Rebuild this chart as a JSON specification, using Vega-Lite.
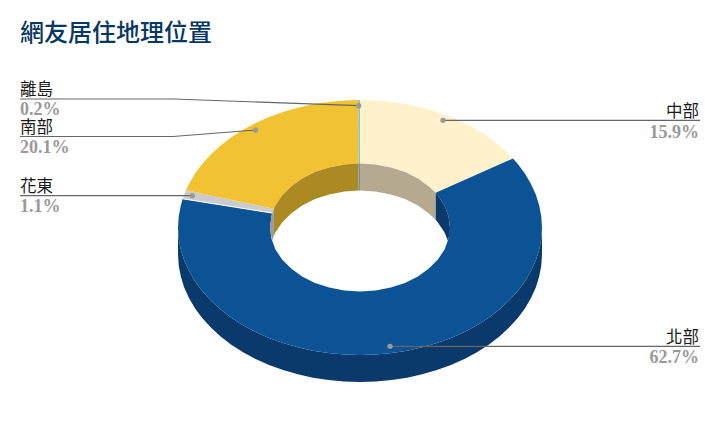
{"$schema":"https://vega.github.io/schema/vega-lite/v6.json","width":720,"height":443,"padding":0,"autosize":{"type":"none"},"background":"white",
"title":{"text":"網友居住地理位置","anchor":"start","frame":"group","orient":"top","offset":0,"dx":20,"dy":65,"baseline":"alphabetic","font":"Noto Sans CJK TC","fontSize":24,"fontWeight":500,"color":"#073763"},
"datasets":{
"shapes":[
{"piece":"北部側面","x":182,"y":0},{"piece":"北部側面","x":181.3,"y":-11.1},{"piece":"北部側面","x":179.2,"y":-22.1},{"piece":"北部側面","x":175.8,"y":-33},{"piece":"北部側面","x":171,"y":-43.6},{"piece":"北部側面","x":164.9,"y":-53.9},{"piece":"北部側面","x":157.6,"y":-63.8},{"piece":"北部側面","x":149.1,"y":-73.1},{"piece":"北部側面","x":139.4,"y":-82},{"piece":"北部側面","x":128.7,"y":-90.2},{"piece":"北部側面","x":117,"y":-97.7},{"piece":"北部側面","x":104.4,"y":-104.4},{"piece":"北部側面","x":91,"y":-110.4},{"piece":"北部側面","x":76.9,"y":-115.6},{"piece":"北部側面","x":62.2,"y":-119.8},{"piece":"北部側面","x":47.1,"y":-123.2},{"piece":"北部側面","x":31.6,"y":-125.6},{"piece":"北部側面","x":15.9,"y":-127},{"piece":"北部側面","x":0,"y":-127.5},{"piece":"北部側面","x":-15.9,"y":-127},{"piece":"北部側面","x":-31.6,"y":-125.6},{"piece":"北部側面","x":-47.1,"y":-123.2},{"piece":"北部側面","x":-62.2,"y":-119.8},{"piece":"北部側面","x":-76.9,"y":-115.6},{"piece":"北部側面","x":-91,"y":-110.4},{"piece":"北部側面","x":-104.4,"y":-104.4},{"piece":"北部側面","x":-117,"y":-97.7},{"piece":"北部側面","x":-128.7,"y":-90.2},{"piece":"北部側面","x":-139.4,"y":-82},{"piece":"北部側面","x":-149.1,"y":-73.1},{"piece":"北部側面","x":-157.6,"y":-63.8},{"piece":"北部側面","x":-164.9,"y":-53.9},{"piece":"北部側面","x":-171,"y":-43.6},{"piece":"北部側面","x":-175.8,"y":-33},{"piece":"北部側面","x":-179.2,"y":-22.1},{"piece":"北部側面","x":-181.3,"y":-11.1},{"piece":"北部側面","x":-182,"y":0},
{"piece":"北部側面","x":-182,"y":-27},{"piece":"北部側面","x":-181.3,"y":-38.1},{"piece":"北部側面","x":-179.2,"y":-49.1},{"piece":"北部側面","x":-175.8,"y":-60},{"piece":"北部側面","x":-171,"y":-70.6},{"piece":"北部側面","x":-164.9,"y":-80.9},{"piece":"北部側面","x":-157.6,"y":-90.8},{"piece":"北部側面","x":-149.1,"y":-100.1},{"piece":"北部側面","x":-139.4,"y":-109},{"piece":"北部側面","x":-128.7,"y":-117.2},{"piece":"北部側面","x":-117,"y":-124.7},{"piece":"北部側面","x":-104.4,"y":-131.4},{"piece":"北部側面","x":-91,"y":-137.4},{"piece":"北部側面","x":-76.9,"y":-142.6},{"piece":"北部側面","x":-62.2,"y":-146.8},{"piece":"北部側面","x":-47.1,"y":-150.2},{"piece":"北部側面","x":-31.6,"y":-152.6},{"piece":"北部側面","x":-15.9,"y":-154},{"piece":"北部側面","x":0,"y":-154.5},{"piece":"北部側面","x":15.9,"y":-154},{"piece":"北部側面","x":31.6,"y":-152.6},{"piece":"北部側面","x":47.1,"y":-150.2},{"piece":"北部側面","x":62.2,"y":-146.8},{"piece":"北部側面","x":76.9,"y":-142.6},{"piece":"北部側面","x":91,"y":-137.4},{"piece":"北部側面","x":104.4,"y":-131.4},{"piece":"北部側面","x":117,"y":-124.7},{"piece":"北部側面","x":128.7,"y":-117.2},{"piece":"北部側面","x":139.4,"y":-109},{"piece":"北部側面","x":149.1,"y":-100.1},{"piece":"北部側面","x":157.6,"y":-90.8},{"piece":"北部側面","x":164.9,"y":-80.9},{"piece":"北部側面","x":171,"y":-70.6},{"piece":"北部側面","x":175.8,"y":-60},{"piece":"北部側面","x":179.2,"y":-49.1},{"piece":"北部側面","x":181.3,"y":-38.1},{"piece":"北部側面","x":182,"y":-27},

{"piece":"中部","x":0,"y":127.5},{"piece":"中部","x":15.9,"y":127},{"piece":"中部","x":31.6,"y":125.6},{"piece":"中部","x":47.1,"y":123.2},{"piece":"中部","x":62.2,"y":119.8},{"piece":"中部","x":76.9,"y":115.6},{"piece":"中部","x":91,"y":110.4},{"piece":"中部","x":104.4,"y":104.4},{"piece":"中部","x":117,"y":97.7},{"piece":"中部","x":128.7,"y":90.2},{"piece":"中部","x":139.4,"y":82},{"piece":"中部","x":149.1,"y":73.1},{"piece":"中部","x":153,"y":69.1},{"piece":"中部","x":75.7,"y":34.7},{"piece":"中部","x":68.9,"y":41.1},{"piece":"中部","x":57.9,"y":49},{"piece":"中部","x":45,"y":55.4},{"piece":"中部","x":30.8,"y":60.1},{"piece":"中部","x":15.6,"y":63},{"piece":"中部","x":0,"y":64},

{"piece":"北部","x":153,"y":69.1},{"piece":"北部","x":157.6,"y":63.8},{"piece":"北部","x":164.9,"y":53.9},{"piece":"北部","x":171,"y":43.6},{"piece":"北部","x":175.8,"y":33},{"piece":"北部","x":179.2,"y":22.1},{"piece":"北部","x":181.3,"y":11.1},{"piece":"北部","x":182,"y":0},{"piece":"北部","x":181.3,"y":-11.1},{"piece":"北部","x":179.2,"y":-22.1},{"piece":"北部","x":175.8,"y":-33},{"piece":"北部","x":171,"y":-43.6},{"piece":"北部","x":164.9,"y":-53.9},{"piece":"北部","x":157.6,"y":-63.8},{"piece":"北部","x":149.1,"y":-73.1},{"piece":"北部","x":139.4,"y":-82},{"piece":"北部","x":128.7,"y":-90.2},{"piece":"北部","x":117,"y":-97.7},{"piece":"北部","x":104.4,"y":-104.4},{"piece":"北部","x":91,"y":-110.4},{"piece":"北部","x":76.9,"y":-115.6},{"piece":"北部","x":62.2,"y":-119.8},{"piece":"北部","x":47.1,"y":-123.2},{"piece":"北部","x":31.6,"y":-125.6},{"piece":"北部","x":15.9,"y":-127},{"piece":"北部","x":0,"y":-127.5},{"piece":"北部","x":-15.9,"y":-127},{"piece":"北部","x":-31.6,"y":-125.6},{"piece":"北部","x":-47.1,"y":-123.2},{"piece":"北部","x":-62.2,"y":-119.8},{"piece":"北部","x":-76.9,"y":-115.6},{"piece":"北部","x":-91,"y":-110.4},{"piece":"北部","x":-104.4,"y":-104.4},{"piece":"北部","x":-117,"y":-97.7},{"piece":"北部","x":-128.7,"y":-90.2},{"piece":"北部","x":-139.4,"y":-82},{"piece":"北部","x":-149.1,"y":-73.1},{"piece":"北部","x":-157.6,"y":-63.8},{"piece":"北部","x":-164.9,"y":-53.9},{"piece":"北部","x":-171,"y":-43.6},{"piece":"北部","x":-175.8,"y":-33},{"piece":"北部","x":-179.2,"y":-22.1},{"piece":"北部","x":-181.3,"y":-11.1},{"piece":"北部","x":-182,"y":0},{"piece":"北部","x":-181.3,"y":11.1},{"piece":"北部","x":-179.2,"y":22.1},{"piece":"北部","x":-177.3,"y":28.7},{"piece":"北部","x":-87.7,"y":14.4},{"piece":"北部","x":-88.6,"y":11.1},{"piece":"北部","x":-90,"y":0},{"piece":"北部","x":-88.6,"y":-11.1},{"piece":"北部","x":-84.6,"y":-21.9},{"piece":"北部","x":-77.9,"y":-32},{"piece":"北部","x":-68.9,"y":-41.1},{"piece":"北部","x":-57.9,"y":-49},{"piece":"北部","x":-45,"y":-55.4},{"piece":"北部","x":-30.8,"y":-60.1},{"piece":"北部","x":-15.6,"y":-63},{"piece":"北部","x":0,"y":-64},{"piece":"北部","x":15.6,"y":-63},{"piece":"北部","x":30.8,"y":-60.1},{"piece":"北部","x":45,"y":-55.4},{"piece":"北部","x":57.9,"y":-49},{"piece":"北部","x":68.9,"y":-41.1},{"piece":"北部","x":77.9,"y":-32},{"piece":"北部","x":84.6,"y":-21.9},{"piece":"北部","x":88.6,"y":-11.1},{"piece":"北部","x":90,"y":0},{"piece":"北部","x":88.6,"y":11.1},{"piece":"北部","x":84.6,"y":21.9},{"piece":"北部","x":77.9,"y":32},{"piece":"北部","x":75.7,"y":34.7},

{"piece":"花東","x":-177.3,"y":28.7},{"piece":"花東","x":-175.8,"y":33},{"piece":"花東","x":-174,"y":37.3},{"piece":"花東","x":-86.1,"y":18.7},{"piece":"花東","x":-87.7,"y":14.4},

{"piece":"南部","x":-174,"y":37.3},{"piece":"南部","x":-171,"y":43.6},{"piece":"南部","x":-164.9,"y":53.9},{"piece":"南部","x":-157.6,"y":63.8},{"piece":"南部","x":-149.1,"y":73.1},{"piece":"南部","x":-139.4,"y":82},{"piece":"南部","x":-128.7,"y":90.2},{"piece":"南部","x":-117,"y":97.7},{"piece":"南部","x":-104.4,"y":104.4},{"piece":"南部","x":-91,"y":110.4},{"piece":"南部","x":-76.9,"y":115.6},{"piece":"南部","x":-62.2,"y":119.8},{"piece":"南部","x":-47.1,"y":123.2},{"piece":"南部","x":-31.6,"y":125.6},{"piece":"南部","x":-15.9,"y":127},{"piece":"南部","x":-1.8,"y":127.5},{"piece":"南部","x":-1.6,"y":64},{"piece":"南部","x":-15.6,"y":63},{"piece":"南部","x":-30.8,"y":60.1},{"piece":"南部","x":-45,"y":55.4},{"piece":"南部","x":-57.9,"y":49},{"piece":"南部","x":-68.9,"y":41.1},{"piece":"南部","x":-77.9,"y":32},{"piece":"南部","x":-84.6,"y":21.9},{"piece":"南部","x":-86.1,"y":18.7},

{"piece":"離島","x":-1.8,"y":127.5},{"piece":"離島","x":0,"y":127.5},{"piece":"離島","x":0,"y":64},{"piece":"離島","x":-1.6,"y":64},

{"piece":"中部內壁","x":0,"y":64},{"piece":"中部內壁","x":15.6,"y":63},{"piece":"中部內壁","x":30.8,"y":60.1},{"piece":"中部內壁","x":45,"y":55.4},{"piece":"中部內壁","x":57.9,"y":49},{"piece":"中部內壁","x":68.9,"y":41.1},{"piece":"中部內壁","x":75.7,"y":34.7},{"piece":"中部內壁","x":75.7,"y":7.7},{"piece":"中部內壁","x":68.9,"y":14.1},{"piece":"中部內壁","x":57.9,"y":22},{"piece":"中部內壁","x":45,"y":28.4},{"piece":"中部內壁","x":30.8,"y":33.1},{"piece":"中部內壁","x":15.6,"y":36},{"piece":"中部內壁","x":0,"y":37},

{"piece":"北部內壁","x":75.7,"y":34.7},{"piece":"北部內壁","x":77.9,"y":32},{"piece":"北部內壁","x":84.6,"y":21.9},{"piece":"北部內壁","x":88.6,"y":11.1},{"piece":"北部內壁","x":90,"y":0},{"piece":"北部內壁","x":89.7,"y":-5.6},{"piece":"北部內壁","x":88,"y":-13.5},{"piece":"北部內壁","x":84.6,"y":-5.1},{"piece":"北部內壁","x":77.9,"y":5},{"piece":"北部內壁","x":75.7,"y":7.7},

{"piece":"花東內壁","x":-86.1,"y":18.7},{"piece":"花東內壁","x":-87.7,"y":14.4},{"piece":"花東內壁","x":-88.6,"y":11.1},{"piece":"花東內壁","x":-90,"y":0},{"piece":"花東內壁","x":-88,"y":-13.5},{"piece":"花東內壁","x":-86.1,"y":-8.3},

{"piece":"南部內壁","x":-86.1,"y":18.7},{"piece":"南部內壁","x":-84.6,"y":21.9},{"piece":"南部內壁","x":-77.9,"y":32},{"piece":"南部內壁","x":-68.9,"y":41.1},{"piece":"南部內壁","x":-57.9,"y":49},{"piece":"南部內壁","x":-45,"y":55.4},{"piece":"南部內壁","x":-30.8,"y":60.1},{"piece":"南部內壁","x":-15.6,"y":63},{"piece":"南部內壁","x":-1.6,"y":64},{"piece":"南部內壁","x":-1.6,"y":37},{"piece":"南部內壁","x":-15.6,"y":36},{"piece":"南部內壁","x":-30.8,"y":33.1},{"piece":"南部內壁","x":-45,"y":28.4},{"piece":"南部內壁","x":-57.9,"y":22},{"piece":"南部內壁","x":-68.9,"y":14.1},{"piece":"南部內壁","x":-77.9,"y":5},{"piece":"南部內壁","x":-84.6,"y":-5.1},{"piece":"南部內壁","x":-86.1,"y":-8.3},

{"piece":"離島內壁","x":-1.6,"y":64},{"piece":"離島內壁","x":0,"y":64},{"piece":"離島內壁","x":0,"y":37},{"piece":"離島內壁","x":-1.6,"y":37}
],
"leaders":[
{"part":"離島","x":-340,"y":128.5},{"part":"離島","x":-187,"y":128.5},{"part":"離島","x":-1.3,"y":121.8},
{"part":"南部","x":-340,"y":91},{"part":"南部","x":-187,"y":91},{"part":"南部","x":-104.3,"y":97.5},
{"part":"花東","x":-340,"y":31.8},{"part":"花東","x":-167.7,"y":31.8},
{"part":"中部","x":83,"y":107.2},{"part":"中部","x":340,"y":107.2},
{"part":"北部","x":30,"y":-118.8},{"part":"北部","x":340,"y":-118.8}
],
"dots":[
{"part":"離島","x":-1.3,"y":121.8},{"part":"南部","x":-104.3,"y":97.5},{"part":"花東","x":-167.7,"y":31.8},{"part":"中部","x":83,"y":107.2},{"part":"北部","x":30,"y":-118.8}
],
"labels":[
{"label":"離島","kind":"name","side":"left","x":-340,"y":132.5},{"label":"0.2%","kind":"value","side":"left","x":-340,"y":112.5},
{"label":"南部","kind":"name","side":"left","x":-340,"y":94.5},{"label":"20.1%","kind":"value","side":"left","x":-340,"y":74.5},
{"label":"花東","kind":"name","side":"left","x":-340,"y":35.5},{"label":"1.1%","kind":"value","side":"left","x":-340,"y":15.5},
{"label":"中部","kind":"name","side":"right","x":339,"y":111},{"label":"15.9%","kind":"value","side":"right","x":339,"y":90},
{"label":"北部","kind":"name","side":"right","x":339,"y":-115},{"label":"62.7%","kind":"value","side":"right","x":339,"y":-135.5}
]},
"encoding":{
"x":{"field":"x","type":"quantitative","axis":null,"scale":{"domain":[-360,360],"nice":false,"zero":false}},
"y":{"field":"y","type":"quantitative","axis":null,"scale":{"domain":[-215.5,227.5],"nice":false,"zero":false}}
},
"layer":[
{"data":{"name":"shapes"},"mark":{"type":"line","order":false,"strokeWidth":0},"encoding":{"fill":{"field":"piece","type":"nominal","legend":null,"scale":{"domain":["北部側面","中部","北部","花東","南部","離島","中部內壁","北部內壁","花東內壁","南部內壁","離島內壁"],"range":["#0A3A6B","#FFF1CC","#0B5394","#CCCCCC","#F1C232","#8CC6B8","#B5AA90","#0A3A6B","#999999","#AB8A24","#6F9488"]}}}},
{"data":{"values":[{"x":-177.3,"y":28.7},{"x":-87.7,"y":14.4}]},"mark":{"type":"line","order":false,"stroke":"#FFFFFF","strokeWidth":1}},
{"data":{"name":"leaders"},"mark":{"type":"line","order":false,"stroke":"#666666","strokeWidth":1.2},"encoding":{"detail":{"field":"part"}}},
{"data":{"name":"dots"},"mark":{"type":"point","filled":true,"fill":"#999999","opacity":1,"size":28,"stroke":null}},
{"data":{"name":"labels"},"transform":[{"filter":"datum.kind==='name'&&datum.side==='left'"}],"mark":{"type":"text","align":"left","baseline":"alphabetic","font":"Noto Sans CJK TC","fontSize":16.5,"color":"#1A1A1A"},"encoding":{"text":{"field":"label"}}},
{"data":{"name":"labels"},"transform":[{"filter":"datum.kind==='name'&&datum.side==='right'"}],"mark":{"type":"text","align":"right","baseline":"alphabetic","font":"Noto Sans CJK TC","fontSize":16.5,"color":"#1A1A1A"},"encoding":{"text":{"field":"label"}}},
{"data":{"name":"labels"},"transform":[{"filter":"datum.kind==='value'&&datum.side==='left'"}],"mark":{"type":"text","align":"left","baseline":"alphabetic","font":"Liberation Serif","fontSize":18,"fontWeight":"bold","color":"#999999"},"encoding":{"text":{"field":"label"}}},
{"data":{"name":"labels"},"transform":[{"filter":"datum.kind==='value'&&datum.side==='right'"}],"mark":{"type":"text","align":"right","baseline":"alphabetic","font":"Liberation Serif","fontSize":18,"fontWeight":"bold","color":"#999999"},"encoding":{"text":{"field":"label"}}}
],
"config":{"view":{"stroke":null}}}
